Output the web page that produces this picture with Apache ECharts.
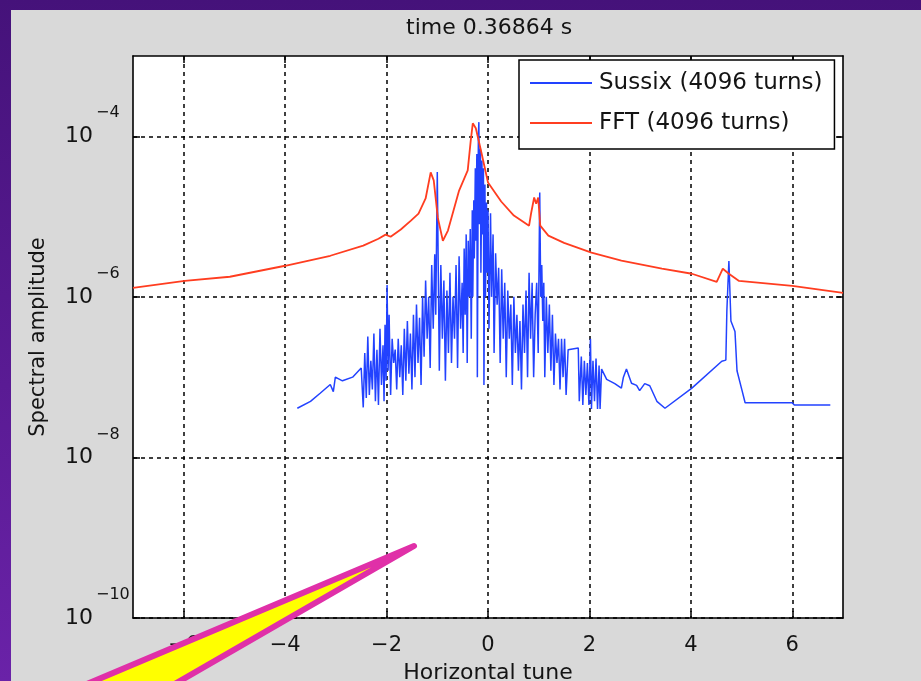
<!DOCTYPE html>
<html><head><meta charset="utf-8">
<script src="https://cdn.jsdelivr.net/npm/echarts@6/dist/echarts.min.js"></script>
<style>
html,body{margin:0;padding:0;width:921px;height:681px;overflow:hidden;background:linear-gradient(to bottom,#45127a,#6a22a8);}
#panel{position:absolute;left:11px;top:10px;right:0;bottom:0;background:#d9d9d9;}
#chart{position:absolute;left:0;top:0;width:921px;height:681px;}
</style></head><body>
<div id="panel"></div><div id="chart"></div>
<script>
const titleText = 'time 0.36864 s';
const xName = 'Horizontal tune';
const yName = 'Spectral amplitude';
const seriesNames = ['Sussix (4096 turns)', 'FFT (4096 turns)'];
const xTicks = [-6, -4, -2, 0, 2, 4, 6];
const yTicks = [1e-10, 1e-8, 1e-6, 1e-4];

const fftTune = [-7.0,-5.98,-5.09,-4.0,-3.11,-2.46,-2.16,-2.02,-1.92,-1.72,
  -1.52,-1.37,-1.23,-1.13,-1.07,-0.99,-0.89,-0.79,-0.57,-0.40,
  -0.34,-0.30,-0.24,-0.14,0.0,0.26,0.51,0.81,0.85,0.91,
  0.95,0.99,1.03,1.19,1.50,2.04,2.63,3.43,4.02,4.51,
  4.63,4.75,4.95,6.0,7.0];
const fftAmp = [1.29e-6,1.58e-6,1.78e-6,2.44e-6,3.25e-6,4.34e-6,5.3e-6,5.96e-6,5.6e-6,6.9e-6,
  8.9e-6,1.09e-5,1.68e-5,3.55e-5,2.82e-5,9.7e-6,5.0e-6,6.7e-6,2.11e-5,3.76e-5,
  8.9e-5,1.45e-4,1.26e-4,6.7e-5,2.66e-5,1.54e-5,1.03e-5,7.7e-6,1.1e-5,1.73e-5,
  1.45e-5,1.73e-5,7.7e-6,5.8e-6,4.7e-6,3.55e-6,2.82e-6,2.24e-6,1.94e-6,1.54e-6,
  2.24e-6,1.94e-6,1.58e-6,1.37e-6,1.12e-6];

const sussixTune = [
  -3.76,-3.50,-3.31,-3.11,-3.05,-3.01,-2.87,-2.67,-2.50,-2.46,
  -2.43,-2.40,-2.37,-2.34,-2.31,-2.28,-2.25,-2.22,-2.19,-2.16,
  -2.13,-2.10,-2.07,-2.05,-2.03,-2.01,-1.99,-1.97,-1.95,-1.92,
  -1.89,-1.86,-1.83,-1.80,-1.77,-1.74,-1.71,-1.68,-1.65,-1.62,
  -1.59,-1.56,-1.53,-1.50,-1.47,-1.44,-1.41,-1.38,-1.35,-1.32,
  -1.29,-1.26,-1.23,-1.20,-1.17,-1.14,-1.11,-1.08,-1.05,-1.03,
  -1.00,-0.98,-0.96,-0.93,-0.90,-0.87,-0.84,-0.81,-0.78,-0.75,
  -0.72,-0.69,-0.66,-0.63,-0.60,-0.57,-0.54,-0.51,-0.49,-0.47,
  -0.45,-0.43,-0.41,-0.39,-0.37,-0.35,-0.33,-0.31,-0.30,-0.28,
  -0.27,-0.25,-0.24,-0.22,-0.21,-0.19,-0.18,-0.17,-0.15,-0.14,
  -0.12,-0.11,-0.09,-0.08,-0.06,-0.05,-0.03,-0.02,0.00,0.02,
  0.05,0.07,0.10,0.12,0.15,0.18,0.21,0.24,0.27,0.30,
  0.33,0.36,0.39,0.42,0.45,0.48,0.51,0.54,0.57,0.60,
  0.63,0.66,0.69,0.72,0.75,0.78,0.81,0.84,0.87,0.90,
  0.93,0.96,0.99,1.02,1.04,1.06,1.08,1.10,1.12,1.15,
  1.18,1.21,1.24,1.27,1.30,1.33,1.36,1.39,1.42,1.45,
  1.48,1.51,1.54,1.58,1.78,1.80,1.84,1.87,1.90,1.93,
  1.96,1.99,2.02,2.04,2.07,2.10,2.13,2.16,2.19,2.21,
  2.24,2.34,2.50,2.63,2.67,2.73,2.83,2.93,2.99,3.09,
  3.19,3.33,3.49,4.02,4.61,4.69,4.71,4.75,4.79,4.87,
  4.91,5.01,5.07,6.00,6.04,6.75];
const sussixAmp = [
  4.1e-8,5.0e-8,6.3e-8,8.1e-8,6.6e-8,1.0e-7,9.0e-8,1.0e-7,1.3e-7,4.2e-8,
  2.0e-7,5.5e-8,3.2e-7,6e-8,1.6e-7,7e-8,3.5e-7,5e-8,2.2e-7,4.5e-8,
  4.0e-7,8e-8,2.5e-7,5e-8,4.5e-7,9e-8,1.4e-6,1.2e-7,6.0e-7,6e-8,
  3.0e-7,1.5e-7,2.2e-7,7e-8,3.0e-7,1.0e-7,2.5e-7,6e-8,4.0e-7,9e-8,
  5.0e-7,1.1e-7,3.5e-7,7e-8,6.0e-7,1.0e-7,8.0e-7,1.5e-7,5.5e-7,8e-8,
  1.0e-6,1.8e-7,1.6e-6,3.0e-7,1.0e-6,1.3e-7,2.5e-6,4.0e-7,3.4e-6,6.0e-7,
  3.6e-5,2.0e-6,1.2e-7,2.5e-6,3.0e-7,1.6e-6,9e-8,1.2e-6,2.0e-7,2.0e-6,
  1.5e-7,1.0e-6,3.0e-7,2.5e-6,1.3e-7,3.2e-6,4.0e-7,1.5e-6,2.0e-7,4.0e-6,
  6e-7,6.0e-6,1.5e-7,5.0e-6,1.0e-6,7.0e-6,3.0e-7,1.2e-5,1.0e-6,1.6e-5,
  3.0e-6,4.0e-5,5.0e-6,6.0e-5,1.0e-7,1.0e-4,1.5e-4,8.0e-6,7.0e-5,2.0e-6,
  5.0e-5,6.0e-6,4.0e-5,8e-8,2.5e-5,1.0e-6,1.5e-5,2.0e-6,1.2e-5,4.0e-7,
  1.1e-5,1.0e-6,6.0e-6,2.0e-7,3.5e-6,8.0e-7,2.3e-6,1.5e-7,2.2e-6,3.0e-7,
  1.5e-6,1.0e-7,1.2e-6,3.0e-7,8.0e-7,8e-8,1.0e-6,2.0e-7,6.0e-7,1.2e-7,
  5.0e-7,7e-8,8.0e-7,2.0e-7,1.2e-6,1.0e-7,2.0e-6,3.0e-7,1.5e-6,1.0e-7,
  6.0e-7,1.5e-6,2.0e-7,2.0e-5,1.0e-6,2.5e-6,5e-7,1.5e-6,1.0e-7,1.0e-6,
  2.0e-7,8.0e-7,1.2e-7,6.0e-7,8e-8,3.5e-7,1.5e-7,3.0e-7,7e-8,3.0e-7,
  1.0e-7,3.0e-7,6e-8,2.2e-7,2.3e-7,5e-8,1.8e-7,4.5e-8,1.6e-7,6e-8,
  1.5e-7,4.5e-8,3.0e-7,4e-8,1.6e-7,5e-8,1.7e-7,4e-8,1.4e-7,4e-8,
  1.26e-7,9.4e-8,8.3e-8,7.3e-8,1.0e-7,1.26e-7,8.4e-8,7.9e-8,6.8e-8,8.3e-8,
  7.8e-8,5.0e-8,4.1e-8,7.3e-8,1.58e-7,1.63e-7,6.7e-7,2.8e-6,5.0e-7,3.7e-7,
  1.2e-7,6.8e-8,4.8e-8,4.8e-8,4.5e-8,4.5e-8];

const FONT = 'DejaVu Sans';
const TXT = '#141414';
const BLUE = '#2242ff';
const RED = '#ff3d20';
const minus = s => String(s).replace('-', '\u2212');

const tickStyle = {color: '#000', width: 1.5};
const axisLineStyle = {color: '#000', width: 1.6};
const gridLine = {color: '#000', type: [4, 4], width: 1.5};

const chart = echarts.init(document.getElementById('chart'), null, {renderer: 'canvas'});
chart.setOption({
  backgroundColor: 'transparent',
  animation: false,
  title: {
    text: titleText, left: 401, top: 12,
    textStyle: {fontFamily: FONT, fontSize: 22, fontWeight: 'normal', color: TXT}
  },
  legend: {
    orient: 'vertical', left: 519, top: 60,
    backgroundColor: '#fff', borderColor: '#000', borderWidth: 1.5, borderRadius: 0,
    padding: [10, 12, 13, 11], itemGap: 14, itemWidth: 62, itemHeight: 2, icon: 'rect',
    textStyle: {fontFamily: FONT, fontSize: 23, lineHeight: 26, color: TXT, padding: [0, 0, 0, 2]},
    data: seriesNames
  },
  grid: {left: 133, top: 56, right: 78, bottom: 63, show: true, backgroundColor: '#fff',
    borderWidth: 0, containLabel: false, outerBoundsMode: 'none'},
  xAxis: [{
    type: 'value', min: -7, max: 7, position: 'bottom',
    axisLine: {show: true, onZero: false, lineStyle: axisLineStyle},
    axisTick: {show: true, inside: true, length: 7, customValues: xTicks, lineStyle: tickStyle},
    axisLabel: {customValues: xTicks, formatter: v => minus(v), margin: 17,
      fontFamily: FONT, fontSize: 21, color: TXT},
    splitLine: {show: true, lineStyle: gridLine},
    name: xName, nameLocation: 'middle', nameGap: 44,
    nameTextStyle: {fontFamily: FONT, fontSize: 22, color: TXT}
  }, {
    type: 'value', min: -7, max: 7, position: 'top',
    axisLine: {show: true, onZero: false, lineStyle: axisLineStyle},
    axisTick: {show: true, inside: true, length: 7, customValues: xTicks, lineStyle: tickStyle},
    axisLabel: {show: false}, splitLine: {show: false}
  }],
  yAxis: [{
    type: 'log', logBase: 10, min: 1e-10, max: 1e-3, position: 'left',
    axisLine: {show: true, onZero: false, lineStyle: axisLineStyle},
    axisTick: {show: true, inside: true, length: 7, customValues: yTicks, lineStyle: tickStyle},
    axisLabel: {
      customValues: yTicks, align: 'left', margin: 68,
      formatter: v => '{b|10}{s|' + minus(Math.round(Math.log10(v))) + '}',
      rich: {
        b: {fontFamily: FONT, fontSize: 22, lineHeight: 22, color: TXT},
        s: {fontFamily: FONT, fontSize: 16, lineHeight: 16, color: TXT, padding: [0, 0, 46, 3]}
      }
    },
    splitLine: {show: true, lineStyle: gridLine},
    name: yName, nameLocation: 'middle', nameGap: 84,
    nameTextStyle: {fontFamily: FONT, fontSize: 21, color: TXT}
  }, {
    type: 'log', logBase: 10, min: 1e-10, max: 1e-3, position: 'right',
    axisLine: {show: true, onZero: false, lineStyle: axisLineStyle},
    axisTick: {show: true, inside: true, length: 7, customValues: yTicks, lineStyle: tickStyle},
    axisLabel: {show: false}, splitLine: {show: false}
  }],
  series: [{
    name: seriesNames[0], type: 'line', xAxisIndex: 0, yAxisIndex: 0,
    data: sussixTune.map((t, i) => [t, sussixAmp[i]]),
    symbol: 'none', clip: true,
    lineStyle: {color: BLUE, width: 1.5}, itemStyle: {color: BLUE}
  }, {
    name: seriesNames[1], type: 'line', xAxisIndex: 0, yAxisIndex: 0,
    data: fftTune.map((t, i) => [t, fftAmp[i]]),
    symbol: 'none', clip: true,
    lineStyle: {color: RED, width: 1.8}, itemStyle: {color: RED}
  }],
  graphic: [{
    type: 'polygon', z: 100,
    shape: {points: [[414, 546], [49, 700], [147, 700]]},
    style: {fill: '#ffff00', stroke: '#e030a8', lineWidth: 6, lineJoin: 'round'}
  }]
});
</script>
</body></html>
